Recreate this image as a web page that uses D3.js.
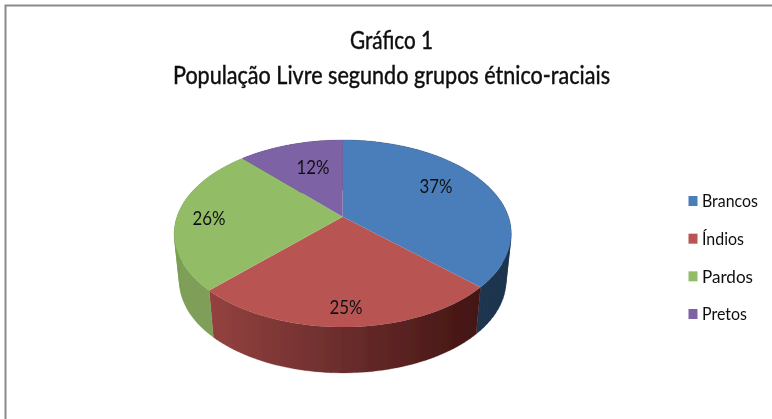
<!DOCTYPE html>
<html><head><meta charset="utf-8">
<script src="https://cdn.jsdelivr.net/npm/d3@7"></script>
<style>html,body{margin:0;padding:0;background:#fff}svg{display:block}text{font-family:Lato,"Noto Sans",sans-serif;fill:#111}</style>
</head><body><svg id="c" width="772" height="419"></svg>
<script>
const categories=["Brancos","Índios","Pardos","Pretos"];
const values=[37,25.4,25.6,12];
const colors=["#4a7ebb","#b85452","#92bc66","#7d62a5"];
const wallColors=["#203550","url(#redWall)","#7f9f58","#5a4678"];
const titleLines=["Gráfico 1","População Livre segundo grupos étnico-raciais"];

const svg=d3.select("#c");
const defs=svg.append("defs");
const grad=defs.append("linearGradient").attr("id","redWall").attr("gradientUnits","userSpaceOnUse")
  .attr("x1",209).attr("x2",482).attr("y1",0).attr("y2",0);
grad.append("stop").attr("offset","0").attr("stop-color","#94423f");
grad.append("stop").attr("offset","0.5").attr("stop-color","#6a2c2c");
grad.append("stop").attr("offset","1").attr("stop-color","#421412");
defs.append("filter").attr("id","soft").append("feGaussianBlur").attr("stdDeviation",0.4);

const root=svg.append("g").attr("filter","url(#soft)");
root.append("path").attr("d","M5.5,419V5.5H772").attr("fill","none").attr("stroke","#8a8a8a").attr("stroke-width",2);

const k=-0.18, apex=[342.7,216.7];
const proj=(cx,cy,a,b)=>t=>{const u=Math.sin(t),v=-Math.cos(t),w=1+k*v;return [cx+a*u/w,cy+b*v/w];};
const topP=proj(apex[0],apex[1],165.7,90.5), botP=proj(342.7,265,160.5,88.5);
const arcs=d3.pie().sort(null).value(d=>d)(values);
const line=d3.line();
const samples=(a,p)=>d3.range(0,61).map(i=>p(a.startAngle+(a.endAngle-a.startAngle)*i/60));

arcs.forEach((a,i)=>{
  const t=samples(a,topP), b=samples(a,botP);
  const quads=d3.range(60).map(j=>{
    const q=[t[j],t[j+1],b[j+1],b[j]];
    return line(d3.polygonArea(q)<0?q.reverse():q)+"Z";
  }).join("");
  root.append("path").attr("fill",wallColors[i]).attr("stroke",wallColors[i]).attr("stroke-width",0.3).attr("d",quads);
});
arcs.forEach((a,i)=>{
  root.append("path").attr("fill",colors[i])
    .attr("d",line([apex].concat(samples(a,topP)))+"Z");
});

const labelPos=[[436,186],[346,307],[209,218],[313,167]];
values.forEach((v,i)=>{
  root.append("text").attr("x",labelPos[i][0]).attr("y",labelPos[i][1]).attr("dy","0.35em")
    .attr("text-anchor","middle").attr("font-size",20)
    .attr("textLength",33).attr("lengthAdjust","spacingAndGlyphs").text(Math.round(v)+"%");
});
titleLines.forEach((t,i)=>{
  root.append("text").attr("x",391.5).attr("y",[49,84][i]).attr("text-anchor","middle")
    .attr("font-size",24.5).attr("stroke","#111").attr("stroke-width",0.45)
    .attr("textLength",[83,437][i]).attr("lengthAdjust","spacingAndGlyphs").text(t);
});

const legend=d3.scalePoint().domain(categories).range([201,314]);
const legendW=[56,42,51,45];
categories.forEach((c,i)=>{
  const y=legend(c);
  root.append("rect").attr("x",688.5).attr("y",y-5).attr("width",9).attr("height",10).attr("fill",colors[i]);
  root.append("text").attr("x",702).attr("y",y).attr("dy","0.35em").attr("font-size",18)
    .attr("textLength",legendW[i]).attr("lengthAdjust","spacingAndGlyphs").text(c);
});
</script></body></html>
